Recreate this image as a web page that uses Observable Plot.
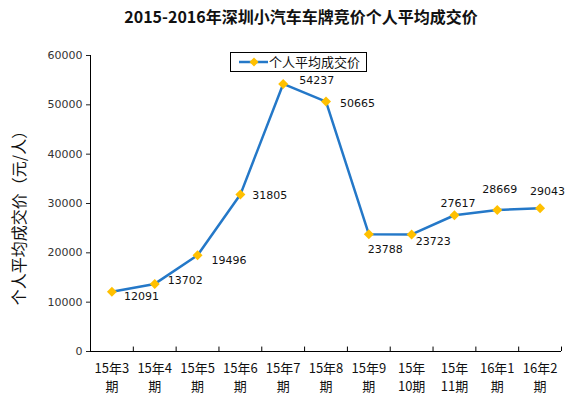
<!DOCTYPE html>
<html>
<head>
<meta charset="utf-8">
<script src="https://cdn.jsdelivr.net/npm/d3@7"></script>
<script src="https://cdn.jsdelivr.net/npm/@observablehq/plot@0.6"></script>
<style>
  html, body { margin: 0; padding: 0; background: #fff; }
  #wrap { position: relative; width: 568px; height: 398px; overflow: hidden; font-family: "Noto Sans CJK SC", sans-serif; }
  #title { position: absolute; left: 0; top: 4px; width: 602px; text-align: center; font-size: 16px; font-weight: 600; color: #111; font-family: "Noto Sans CJK SC", serif; }
  #chart { position: absolute; left: 0; top: 30px; }
  #ylabel { position: absolute; left: 18px; top: 214px; transform: translate(-50%, -50%) rotate(-90deg); white-space: nowrap; font-size: 16px; color: #111; }
  #legend { position: absolute; left: 230px; top: 52px; width: 135px; height: 18px; border: 1px solid #000; background: #fff; font-size: 13px; line-height: 18px; color: #111; }
  #legend svg { position: absolute; left: 8px; top: 3px; }
  #legend span { position: absolute; left: 38px; top: 0; }
</style>
</head>
<body>
<div id="wrap">
  <div id="title">2015-2016年深圳小汽车车牌竞价个人平均成交价</div>
  <div id="chart"></div>
  <div id="ylabel">个人平均成交价（元/人）</div>
  <div id="legend"><svg width="30" height="12"><line x1="0" y1="6" x2="29" y2="6" stroke="#2478c8" stroke-width="2.5"/><path d="M15,1.5 L19.5,6 L15,10.5 L10.5,6 Z" fill="#FFC000"/></svg><span>个人平均成交价</span></div>
</div>
<script>
const categories = ["15年3\n期", "15年4\n期", "15年5\n期", "15年6\n期", "15年7\n期", "15年8\n期", "15年9\n期", "15年\n10期", "15年\n11期", "16年1\n期", "16年2\n期"];
const values = [12091, 13702, 19496, 31805, 54237, 50665, 23788, 23723, 27617, 28669, 29043];
const yTicks = [0, 10000, 20000, 30000, 40000, 50000, 60000];

const data = categories.map((c, i) => ({i, c, v: values[i]}));
const boundaries = d3.range(-0.5, categories.length, 1);

// label offsets (layout only)
const labelOffsets = [[12,5],[13,-3],[14,5],[12,1],[16,-3],[14,2],[-1,15],[4,7],[-14,-12],[-15,-21],[-10,-17]];

const blue = "#2478c8";
const gold = "#FFC000";

const chart = Plot.plot({
  width: 568,
  height: 368,
  marginTop: 25,
  marginBottom: 47,
  marginLeft: 90,
  marginRight: 7,
  style: {fontFamily: "DejaVu Sans, sans-serif", background: "#fff", color: "#222"},
  x: {type: "linear", domain: [-0.5, categories.length - 0.5]},
  y: {domain: [0, 60000]},
  marks: [
    Plot.axisY({ticks: yTicks, tickFormat: d => String(d), tickSize: 4, tickPadding: 4, fontSize: 11, label: null, fill: "#333"}),
    Plot.axisX({ticks: d3.range(categories.length), tickFormat: i => categories[i], tickSize: 0, tickPadding: 9, fontSize: 13, lineHeight: 1.35, label: null, fontFamily: "Noto Sans CJK SC, sans-serif", fill: "#111"}),
    Plot.ruleX(boundaries, {x: d => d, y1: 0, y2: 900, stroke: "#000"}),
    Plot.ruleX([-0.5], {stroke: "#000"}),
    Plot.ruleY([0], {stroke: "#000"}),
    Plot.line(data, {x: "i", y: "v", stroke: blue, strokeWidth: 2.5}),
    Plot.dot(data, {x: "i", y: "v", symbol: "diamond2", r: 4.5, fill: gold, stroke: null}),
    ...data.map((d, k) => Plot.text([d], {x: "i", y: "v", text: q => String(q.v), textAnchor: "start", dx: labelOffsets[k][0], dy: labelOffsets[k][1], fontSize: 11, fill: "#111"}))
  ]
});
document.getElementById("chart").appendChild(chart);
</script>
</body>
</html>
